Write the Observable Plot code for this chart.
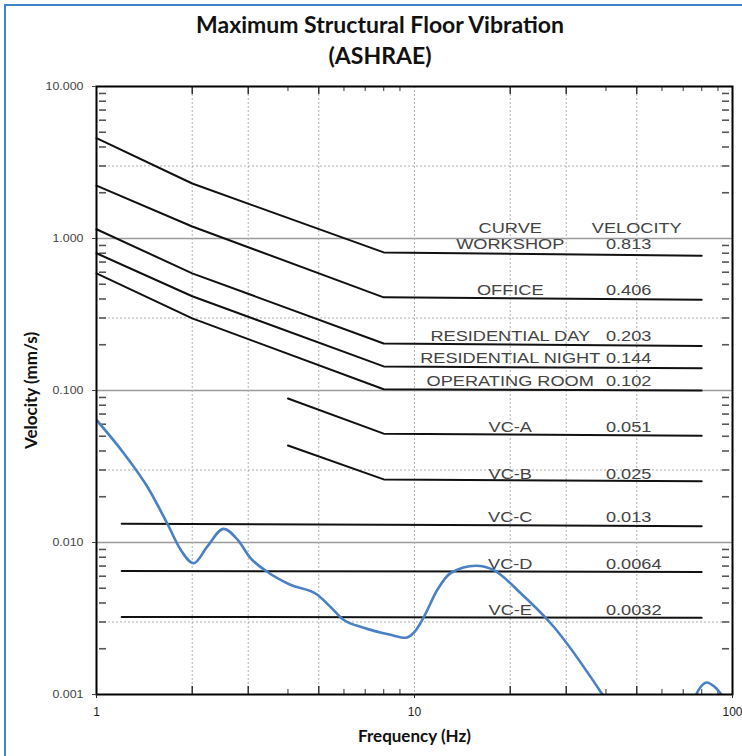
<!DOCTYPE html>
<html>
<head>
<meta charset="utf-8">
<script src="https://cdn.jsdelivr.net/npm/d3@7"></script>
<script src="https://cdn.jsdelivr.net/npm/@observablehq/plot@0.6"></script>
<style>
  body { margin: 0; background: #fff; width: 742px; height: 756px; overflow: hidden; position: relative; }
  #border { position: absolute; left: 4px; top: 4px; width: 820px; height: 820px; border: 2px solid #3d86c9; box-sizing: border-box; pointer-events: none; }
  .t { position: absolute; left: 0; width: 760px; text-align: center; font-family: Lato, "Open Sans", sans-serif; font-weight: 700; font-size: 23px; line-height: 26px; color: #111; }
  #chart { position: absolute; left: 0; top: 75px; }
</style>
</head>
<body>
<div id="border"></div>
<div class="t" style="top:11px">Maximum Structural Floor Vibration</div>
<div class="t" style="top:42px">(ASHRAE)</div>
<div id="chart"></div>
<script>
// ---- Data ----
const curveLabels = ["WORKSHOP", "OFFICE", "RESIDENTIAL DAY", "RESIDENTIAL NIGHT", "OPERATING ROOM", "VC-A", "VC-B", "VC-C", "VC-D", "VC-E"];
const curveValues = ["0.813", "0.406", "0.203", "0.144", "0.102", "0.051", "0.025", "0.013", "0.0064", "0.0032"];
const headerLabels = ["CURVE", "VELOCITY"];
const curveFreqs = [
  [1, 2, 8, 80],
  [1, 2, 8, 80],
  [1, 2, 8, 80],
  [1, 2, 8, 80],
  [1, 2, 8, 80],
  [4, 8, 80],
  [4, 8, 80],
  [1.2, 80],
  [1.2, 80],
  [1.2, 80]
];
const curveVelocities = [
  [4.57, 2.3, 0.81, 0.77],
  [2.23, 1.2, 0.41, 0.395],
  [1.15, 0.59, 0.204, 0.196],
  [0.80, 0.417, 0.144, 0.14],
  [0.59, 0.298, 0.102, 0.1],
  [0.0886, 0.052, 0.0504],
  [0.0435, 0.026, 0.0253],
  [0.0133, 0.0128],
  [0.0065, 0.0064],
  [0.00324, 0.0032]
];
// measured floor vibration (blue curve), two visible pieces
const measuredFreqA = [1, 1.22, 1.45, 1.67, 1.84, 2.02, 2.23, 2.51, 2.78, 3.05, 3.45, 4.07, 4.95, 5.44, 5.98, 6.92, 8.41, 9.37, 10.0, 10.67, 11.8, 13.0, 15.6, 17.7, 21.5, 27.4, 39];
const measuredVelA  = [0.064, 0.0385, 0.023, 0.0133, 0.00895, 0.0073, 0.0094, 0.0123, 0.0104, 0.0079, 0.0064, 0.00527, 0.00453, 0.00377, 0.0031, 0.00275, 0.00247, 0.00236, 0.00258, 0.0032, 0.00489, 0.0063, 0.00703, 0.0066, 0.00467, 0.00279, 0.001];
const measuredFreqB = [76, 78, 83, 88, 94];
const measuredVelB  = [0.00095, 0.00106, 0.0012, 0.00112, 0.00095];

const yTicks = [0.001, 0.01, 0.1, 1, 10];
const xTicks = [1, 10, 100];
const yGridSolid = [0.01, 0.1, 1];
const yGridDotted = [0.003, 0.03, 0.3, 3];
const xGridDotted = [2, 3, 5, 10, 20, 30, 50];
const minorMultipliers = [2, 3, 4, 5, 6, 7, 8, 9];

// ---- Build tables ----
const criteria = curveLabels.flatMap((name, i) => curveFreqs[i].map((f, j) => ({name, f, v: curveVelocities[i][j]})));
const labelRows = curveLabels.map((name, i) => ({name, value: curveValues[i], v: +curveValues[i]}));
const measured = [
  ...measuredFreqA.map((f, i) => ({seg: "a", f, v: measuredVelA[i]})),
  ...measuredFreqB.map((f, i) => ({seg: "b", f, v: measuredVelB[i]}))
];
const minorY = [0.001, 0.01, 0.1, 1].flatMap(d => minorMultipliers.map(k => k * d));
const minorXLong = [1, 10].flatMap(d => [2, 3, 5].map(k => k * d));
const minorXShort = [1, 10].flatMap(d => [4, 6, 7, 8, 9].map(k => k * d));

const W = 742, H = 681;
const mL = 96, mR = 10, mT = 11, mB = 62;
const fw = W - mL - mR, fh = H - mT - mB;
const txt = "Liberation Sans, Arial, sans-serif";
const bold = "Lato, 'Open Sans', sans-serif";

const chart = Plot.plot({
  width: W, height: H,
  marginLeft: mL, marginRight: mR, marginTop: mT, marginBottom: mB,
  style: {fontFamily: txt, background: "transparent", overflow: "visible"},
  x: {type: "log", domain: [1, 100], label: null},
  y: {type: "log", domain: [0.001, 10], label: null},
  marks: [
    Plot.ruleY(yGridSolid, {stroke: "#9a9a9a", strokeWidth: 1.3}),
    Plot.ruleY(yGridDotted, {stroke: "#b0b0b0", strokeDasharray: "2,2"}),
    Plot.ruleX(xGridDotted, {stroke: "#b0b0b0", strokeDasharray: "2,2"}),
    Plot.tickY(minorY, {y: d => d, stroke: "#555", strokeWidth: 1.6, insetLeft: 3, insetRight: fw - 10}),
    Plot.tickY(minorY, {y: d => d, stroke: "#555", strokeWidth: 1.6, insetLeft: fw - 10, insetRight: 3}),
    Plot.tickX(minorXLong, {x: d => d, stroke: "#333", strokeWidth: 1.5, insetTop: fh - 8}),
    Plot.tickX(minorXShort, {x: d => d, stroke: "#555", strokeWidth: 1.2, insetTop: fh - 5}),
    Plot.tickX(minorXLong, {x: d => d, stroke: "#333", strokeWidth: 1.5, insetBottom: fh - 8}),
    Plot.tickX(minorXShort, {x: d => d, stroke: "#555", strokeWidth: 1.2, insetBottom: fh - 5}),
    Plot.line(criteria, {x: "f", y: "v", z: "name", stroke: "#111", strokeWidth: 2}),
    Plot.line(measured, {x: "f", y: "v", z: "seg", stroke: "#4a80c4", strokeWidth: 2.6, curve: "monotone-x", clip: true}),
    Plot.text(labelRows, {x: () => 20, y: "v", text: "name", textAnchor: "middle", lineAnchor: "bottom", dy: -3, fontSize: 14, fill: "#444"}),
    Plot.text(labelRows, {x: () => 40, y: "v", text: "value", textAnchor: "start", lineAnchor: "bottom", dy: -3, fontSize: 14, fill: "#444"}),
    Plot.text(headerLabels, {x: (d, i) => i === 0 ? 20 : 50, y: () => 0.813, text: d => d, textAnchor: "middle", lineAnchor: "bottom", dy: -19, fontSize: 14, fill: "#444"}),
    Plot.frame({stroke: "#000", strokeWidth: 2}),
    Plot.axisY({ticks: yTicks, tickFormat: d3.format(".3f"), tickSize: 4, tickPadding: 9, fontSize: 11, color: "#444"}),
    Plot.axisX({ticks: xTicks, tickFormat: d => String(d), tickSize: 4, tickPadding: 9, fontSize: 12, color: "#222"}),
    Plot.text(["Velocity (mm/s)"], {frameAnchor: "left", text: d => d, rotate: -90, dx: -65, textAnchor: "middle", lineAnchor: "middle", fontSize: 17, fontWeight: 700, fontFamily: bold, fill: "#111"}),
    Plot.text(["Frequency (Hz)"], {frameAnchor: "bottom", text: d => d, dy: 42, textAnchor: "middle", lineAnchor: "middle", fontSize: 17, fontWeight: 700, fontFamily: bold, fill: "#111"})
  ]
});
document.getElementById("chart").appendChild(chart);

// widen the annotation lettering (horizontally stretched in the reference)
const stretched = new Set([...curveLabels, ...curveValues, ...headerLabels]);
const tickLabels = new Set(yTicks.map(d3.format(".3f")));
d3.select(chart).selectAll("text").each(function () {
  const s = this.textContent;
  const t = this.getAttribute("transform") || "";
  if (stretched.has(s)) this.setAttribute("transform", t + " scale(1.3,1)");
  else if (tickLabels.has(s)) this.setAttribute("transform", t + " scale(1.13,1)");
});
</script>
</body>
</html>
